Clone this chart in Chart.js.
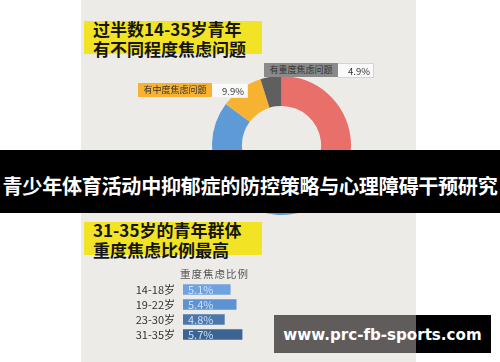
<!DOCTYPE html>
<html>
<head>
<meta charset="utf-8">
<script src="https://cdn.jsdelivr.net/npm/chart.js"></script>
<style>
  body { margin: 0; background: #fff; }
  #stage { position: relative; width: 500px; height: 362px; overflow: hidden; background: #fff; font-family: 'Noto Sans CJK SC', sans-serif; }
  #panel { position: absolute; left: 81px; top: 0; width: 335px; height: 362px; background: #edebe8; }
  .headline { position: absolute; left: 84px; width: 178px; height: 33px; background: #f2e424; }
  .headline div { position: absolute; left: 9px; top: -2px; font-size: 17px; font-weight: bold; color: #151515; line-height: 19.5px; white-space: nowrap; }
  .tag { position: absolute; height: 14px; font-size: 9px; line-height: 14px; color: #333; white-space: nowrap; }
  .tag .name { position: absolute; left: 0; top: 0; width: 74px; height: 14px; text-align: center; }
  .tag .val { position: absolute; left: 74px; top: 0; width: 35px; height: 13px; background: #fafafa; border: 1px solid #d4d4d4; border-left: none; font-size: 9.5px; }
  .tag .val span { position: absolute; right: 3px; }
  #donut { position: absolute; left: 212px; top: 76px; }
  #barTitle { position: absolute; left: 180px; top: 266px; width: 68px; font-size: 10.5px; letter-spacing: 1px; color: #555; white-space: nowrap; }
  #bars { position: absolute; left: 116px; top: 282px; }
  #banner { position: absolute; left: 0; top: 150px; width: 500px; height: 63px; background: #000; }
  #bannerMid { position: absolute; left: 81px; top: 150px; width: 335px; height: 63px; background: rgba(0,0,0,0.6); }
  #bannerText { position: absolute; left: 0; top: 150px; width: 500px; height: 63px; line-height: 72px; text-align: center; color: #fff; font-size: 20.1px; letter-spacing: -0.3px; font-weight: bold; white-space: nowrap; }
  #mark { position: absolute; left: 274px; top: 315px; width: 217px; height: 38px; background: #000; }
  #markMid { position: absolute; left: 274px; top: 315px; width: 142px; height: 38px; background: #5f5c5b; }
  #markText { position: absolute; left: 274px; top: 315px; width: 217px; height: 38px; line-height: 40px; text-align: center; color: #fff; font-family: 'DejaVu Sans', sans-serif; font-size: 15.1px; font-weight: bold; white-space: nowrap; }
</style>
</head>
<body>
<div id="stage">
  <div id="panel"></div>

  <div class="headline" style="top:21px"><div>过半数14-35岁青年<br>有不同程度焦虑问题</div></div>
  <div class="headline" style="top:222px"><div>31-35岁的青年群体<br>重度焦虑比例最高</div></div>

  <canvas id="donut" width="139" height="139"></canvas>

  <div class="tag" id="tag3" style="left:264px; top:63px;"><div class="name" style="background:#8a8a8a"></div><div class="val"><span></span></div></div>
  <div class="tag" id="tag2" style="left:138px; top:83px;"><div class="name" style="background:#f6b230"></div><div class="val" style="border-color:#eee"><span></span></div></div>
  <div class="tag" id="tag1" style="left:117px; top:150px;"><div class="name" style="background:#5e9bd6"></div><div class="val" style="border-color:#eee"><span></span></div></div>

  <div id="barTitle"></div>
  <canvas id="bars" width="132" height="60"></canvas>

  <div id="banner"></div>
  <div id="bannerMid"></div>
  <div id="bannerText">青少年体育活动中抑郁症的防控策略与心理障碍干预研究</div>

  <div id="mark"></div>
  <div id="markMid"></div>
  <div id="markText">www.prc-fb-sports.com</div>
</div>

<script>
// doughnut: share of 14-35 year olds by anxiety level
var anxietyLevels = ["无焦虑问题", "有轻度焦虑问题", "有中度焦虑问题", "有重度焦虑问题"];
var anxietyShares = [46.4, 38.8, 9.9, 4.9];
var sliceColors = ["#e9706a", "#5e9bd6", "#f6b230", "#5f5f5f"];

// bars: severe anxiety rate by age group
var barTitle = "重度焦虑比例";
var ageGroups = ["14-18岁", "19-22岁", "23-30岁", "31-35岁"];
var severeRates = [5.1, 5.4, 4.8, 5.7];
var barColors = ["#6fa2de", "#5d93d2", "#4a78ad", "#3c6492"];

var cjkFont = "'Noto Sans CJK SC', 'Noto Sans', sans-serif";
Chart.defaults.font.family = cjkFont;

// fill the callout tags from the data
for (var i = 1; i < anxietyLevels.length; i++) {
  var tag = document.getElementById("tag" + i);
  tag.querySelector(".name").textContent = anxietyLevels[i];
  tag.querySelector(".val span").textContent = anxietyShares[i].toFixed(1) + "%";
}
document.getElementById("barTitle").textContent = barTitle;

new Chart("donut", {
  type: "doughnut",
  data: {
    labels: anxietyLevels,
    datasets: [{
      data: anxietyShares,
      backgroundColor: sliceColors,
      borderWidth: 0
    }]
  },
  options: {
    responsive: false,
    animation: false,
    cutout: "57%",
    layout: { padding: 0 },
    plugins: { legend: { display: false }, tooltip: { enabled: false } }
  }
});

// percentage text written inside each bar
var barValueLabels = {
  id: "barValueLabels",
  afterDraw: function (chart) {
    var ctx = chart.ctx;
    var xScale = chart.scales.x;
    var yScale = chart.scales.y;
    var left = xScale.getPixelForValue(xScale.min);
    ctx.save();
    ctx.font = "11px " + cjkFont;
    ctx.fillStyle = "rgba(215,232,255,0.9)";
    ctx.textAlign = "left";
    ctx.textBaseline = "middle";
    for (var i = 0; i < severeRates.length; i++) {
      ctx.fillText(severeRates[i].toFixed(1) + "%", left + 5, yScale.getPixelForValue(i) + 0.5);
    }
    ctx.restore();
  }
};

new Chart("bars", {
  type: "bar",
  data: {
    labels: ageGroups,
    datasets: [{
      data: severeRates,
      backgroundColor: barColors,
      borderWidth: 0,
      barThickness: 10
    }]
  },
  options: {
    indexAxis: "y",
    responsive: false,
    animation: false,
    layout: { padding: 0 },
    plugins: { legend: { display: false }, tooltip: { enabled: false } },
    scales: {
      x: { display: false, min: 2.7, max: 6 },
      y: {
        grid: { display: false, drawTicks: true, tickLength: 8 },
        border: { display: false },
        ticks: { color: "#333", font: { family: cjkFont, size: 11 }, padding: 0, autoSkip: false },
        afterFit: function (axis) {
          axis.width = 67;
          axis.paddingTop = 0;
          axis.paddingBottom = 0;
        }
      }
    }
  },
  plugins: [barValueLabels]
});
</script>
</body>
</html>
